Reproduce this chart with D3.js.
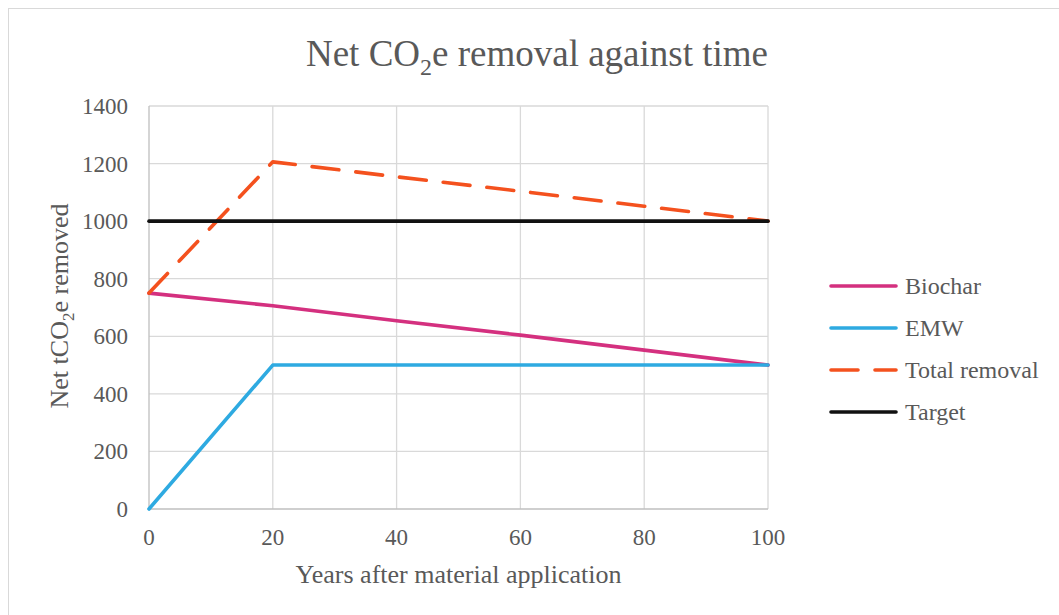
<!DOCTYPE html>
<html>
<head>
<meta charset="utf-8">
<script src="https://cdn.jsdelivr.net/npm/d3@7"></script>
<style>
  body { margin: 0; background: #fff; }
  svg text { font-family: "Liberation Serif", "Times New Roman", serif; fill: #595959; }
</style>
</head>
<body>
<div id="chart"></div>
<script>
// data
const years = [0, 20, 40, 60, 80, 100];
const biochar = [750, 706, 654, 604, 552, 500];
const emw = [0, 500, 500, 500, 500, 500];
const totalRemoval = [750, 1206, 1154, 1104, 1052, 1000];
const target = [1000, 1000, 1000, 1000, 1000, 1000];
const yTicks = [0, 200, 400, 600, 800, 1000, 1200, 1400];
const xTicks = [0, 20, 40, 60, 80, 100];

const series = [
  { name: "Biochar", values: biochar, color: "#d4307f", dash: null },
  { name: "EMW", values: emw, color: "#2eaae1", dash: null },
  { name: "Total removal", values: totalRemoval, color: "#f4511e", dash: "27,17" },
  { name: "Target", values: target, color: "#111111", dash: null }
];

const width = 1059, height = 615;

const svg = d3.select("#chart").append("svg")
  .attr("width", width)
  .attr("height", height);

// chart border
svg.append("rect")
  .attr("x", 8.5).attr("y", 8.5)
  .attr("width", 1100).attr("height", 700)
  .attr("fill", "none")
  .attr("stroke", "#d9d9d9");

// scales (plot area 149..768 x 106..509)
const x = d3.scaleLinear().domain([0, 100]).range([149, 768]);
const y = d3.scaleLinear().domain([0, 1400]).range([509, 106]);

// grid
svg.append("g")
  .selectAll("line")
  .data(yTicks.filter(d => d > 0))
  .enter().append("line")
  .attr("x1", x(0)).attr("x2", x(100))
  .attr("y1", d => y(d)).attr("y2", d => y(d))
  .attr("stroke", "#d9d9d9").attr("stroke-width", 1.3);

svg.append("g")
  .selectAll("line")
  .data(xTicks.filter(d => d > 0))
  .enter().append("line")
  .attr("x1", d => x(d)).attr("x2", d => x(d))
  .attr("y1", y(0)).attr("y2", y(1400))
  .attr("stroke", "#d9d9d9").attr("stroke-width", 1.3);

// axis lines
svg.append("line")
  .attr("x1", x(0)).attr("x2", x(0))
  .attr("y1", y(0)).attr("y2", y(1400))
  .attr("stroke", "#bfbfbf").attr("stroke-width", 1.3);
svg.append("line")
  .attr("x1", x(0)).attr("x2", x(100))
  .attr("y1", y(0)).attr("y2", y(0))
  .attr("stroke", "#bfbfbf").attr("stroke-width", 1.3);

// tick labels
svg.append("g")
  .selectAll("text")
  .data(yTicks)
  .enter().append("text")
  .attr("x", 128)
  .attr("y", d => y(d))
  .attr("dy", "0.35em")
  .attr("text-anchor", "end")
  .style("font-size", "23px")
  .text(d => d);

svg.append("g")
  .selectAll("text")
  .data(xTicks)
  .enter().append("text")
  .attr("x", d => x(d))
  .attr("y", 545)
  .attr("text-anchor", "middle")
  .style("font-size", "23px")
  .text(d => d);

// lines
const line = d3.line()
  .x((d, i) => x(years[i]))
  .y(d => y(d));

series.forEach(s => {
  svg.append("path")
    .datum(s.values)
    .attr("d", line)
    .attr("fill", "none")
    .attr("stroke", s.color)
    .attr("stroke-width", 3.6)
    .attr("stroke-linecap", "round")
    .attr("stroke-linejoin", "round")
    .attr("stroke-dasharray", s.dash);
});

// title
const title = svg.append("text")
  .attr("x", 537)
  .attr("y", 66)
  .attr("text-anchor", "middle")
  .style("font-size", "37px");
title.append("tspan").text("Net CO");
title.append("tspan").attr("dy", 9).style("font-size", "24px").text("2");
title.append("tspan").attr("dy", -9).text("e removal against time");

// axis titles
svg.append("text")
  .attr("x", x(50))
  .attr("y", 583)
  .attr("text-anchor", "middle")
  .style("font-size", "26px")
  .text("Years after material application");

const yTitle = svg.append("text")
  .attr("transform", "translate(68,306) rotate(-90)")
  .attr("text-anchor", "middle")
  .style("font-size", "26px");
yTitle.append("tspan").text("Net tCO");
yTitle.append("tspan").attr("dy", 6).style("font-size", "17px").text("2");
yTitle.append("tspan").attr("dy", -6).text("e removed");

// legend
const legendY = d3.scalePoint().domain(series.map(d => d.name)).range([286, 412]);
const legend = svg.append("g")
  .selectAll("g")
  .data(series)
  .enter().append("g")
  .attr("transform", d => `translate(0,${legendY(d.name)})`);

legend.append("line")
  .attr("x1", 831).attr("x2", 896)
  .attr("stroke", d => d.color)
  .attr("stroke-width", 3.6)
  .attr("stroke-linecap", "round")
  .attr("stroke-dasharray", d => d.dash);

legend.append("text")
  .attr("x", 905)
  .attr("dy", "0.35em")
  .style("font-size", "24px")
  .text(d => d.name);
</script>
</body>
</html>
